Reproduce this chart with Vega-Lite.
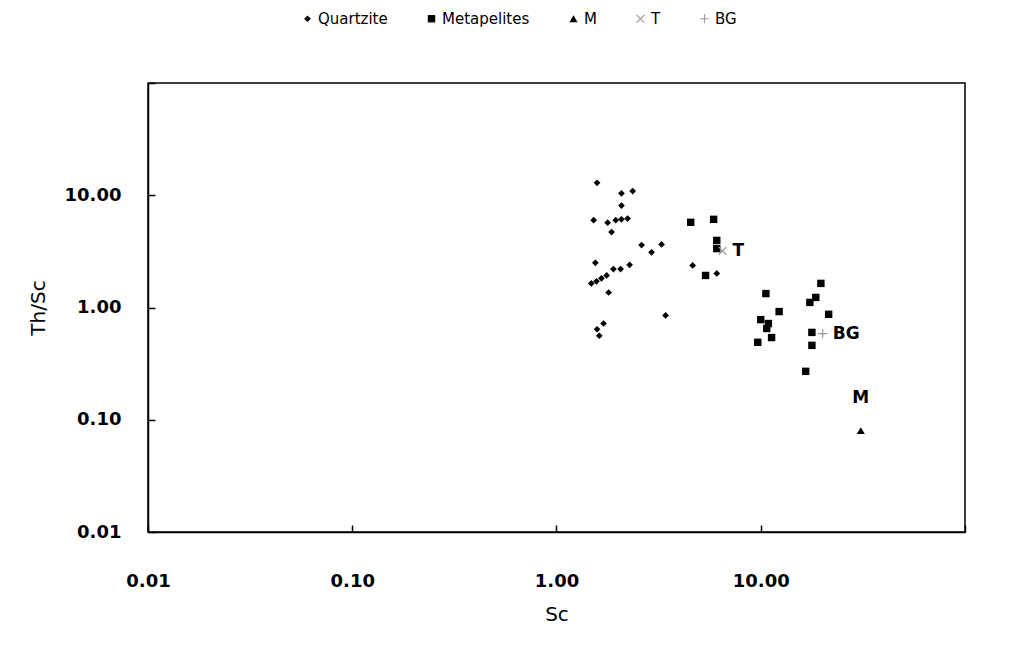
{
  "$schema": "https://vega.github.io/schema/vega-lite/v6.json",
  "width": 817,
  "height": 449,
  "autosize": {"type": "none"},
  "padding": {"left": 148, "top": 83, "right": 66, "bottom": 133},
  "background": "white",
  "config": {
    "view": {"stroke": "black", "strokeWidth": 1.5},
    "font": "DejaVu Sans",
    "axis": {
      "grid": false,
      "domainColor": "black",
      "domainWidth": 1.5,
      "tickColor": "black",
      "tickWidth": 1.5,
      "tickSize": -7,
      "labelColor": "black",
      "labelFont": "DejaVu Sans",
      "labelFontSize": 18,
      "labelFontWeight": "bold",
      "labelFlush": false,
      "labelOverlap": false,
      "titleColor": "black",
      "titleFont": "DejaVu Sans",
      "titleFontSize": 20,
      "titleFontWeight": "normal"
    },
    "legend": {
      "labelFont": "DejaVu Sans",
      "labelFontSize": 15,
      "labelColor": "black"
    }
  },
  "data": {
    "values": [
      {"series": "Quartzite", "x": 1.58, "y": 12.9},
      {"series": "Quartzite", "x": 2.08, "y": 10.4},
      {"series": "Quartzite", "x": 2.08, "y": 8.1},
      {"series": "Quartzite", "x": 2.36, "y": 10.9},
      {"series": "Quartzite", "x": 1.52, "y": 6.0},
      {"series": "Quartzite", "x": 1.78, "y": 5.7},
      {"series": "Quartzite", "x": 1.95, "y": 6.0},
      {"series": "Quartzite", "x": 2.08, "y": 6.1},
      {"series": "Quartzite", "x": 2.23, "y": 6.2},
      {"series": "Quartzite", "x": 1.86, "y": 4.7},
      {"series": "Quartzite", "x": 2.61, "y": 3.6},
      {"series": "Quartzite", "x": 2.92, "y": 3.1},
      {"series": "Quartzite", "x": 3.27, "y": 3.65},
      {"series": "Quartzite", "x": 1.55, "y": 2.5},
      {"series": "Quartzite", "x": 1.9, "y": 2.2},
      {"series": "Quartzite", "x": 2.06, "y": 2.2},
      {"series": "Quartzite", "x": 2.28, "y": 2.4},
      {"series": "Quartzite", "x": 1.48, "y": 1.64},
      {"series": "Quartzite", "x": 1.57, "y": 1.71},
      {"series": "Quartzite", "x": 1.66, "y": 1.82},
      {"series": "Quartzite", "x": 1.76, "y": 1.93},
      {"series": "Quartzite", "x": 1.8, "y": 1.36},
      {"series": "Quartzite", "x": 3.42, "y": 0.85},
      {"series": "Quartzite", "x": 1.7, "y": 0.72},
      {"series": "Quartzite", "x": 1.58, "y": 0.64},
      {"series": "Quartzite", "x": 1.62, "y": 0.56},
      {"series": "Quartzite", "x": 4.64, "y": 2.37},
      {"series": "Quartzite", "x": 6.09, "y": 2.01},
      {"series": "Metapelites", "x": 4.54, "y": 5.74},
      {"series": "Metapelites", "x": 5.88, "y": 6.1},
      {"series": "Metapelites", "x": 6.09, "y": 3.96},
      {"series": "Metapelites", "x": 6.09, "y": 3.35},
      {"series": "Metapelites", "x": 5.37, "y": 1.93},
      {"series": "Metapelites", "x": 10.6, "y": 1.33},
      {"series": "Metapelites", "x": 12.3, "y": 0.92},
      {"series": "Metapelites", "x": 10.0, "y": 0.78},
      {"series": "Metapelites", "x": 10.9, "y": 0.72},
      {"series": "Metapelites", "x": 10.7, "y": 0.65},
      {"series": "Metapelites", "x": 11.3, "y": 0.54},
      {"series": "Metapelites", "x": 9.67, "y": 0.49},
      {"series": "Metapelites", "x": 19.7, "y": 1.64},
      {"series": "Metapelites", "x": 18.6, "y": 1.23},
      {"series": "Metapelites", "x": 17.4, "y": 1.11},
      {"series": "Metapelites", "x": 21.5, "y": 0.87},
      {"series": "Metapelites", "x": 17.8, "y": 0.6},
      {"series": "Metapelites", "x": 17.8, "y": 0.46},
      {"series": "Metapelites", "x": 16.6, "y": 0.27},
      {"series": "M", "x": 30.9, "y": 0.08, "label": "M"},
      {"series": "T", "x": 6.5, "y": 3.2, "label": "T"},
      {"series": "BG", "x": 20.1, "y": 0.585, "label": "BG"}
    ]
  },
  "layer": [
    {
      "mark": {"type": "point", "filled": true, "opacity": 1},
      "encoding": {
        "x": {
          "field": "x", "type": "quantitative",
          "scale": {"type": "log", "domain": [0.01, 100], "nice": false},
          "axis": {
            "title": "Sc",
            "values": [0.01, 0.1, 1, 10, 100],
            "labelExpr": "datum.value >= 100 ? '' : format(datum.value, '.2f')",
            "labelPadding": 47,
            "titlePadding": 14
          }
        },
        "y": {
          "field": "y", "type": "quantitative",
          "scale": {"type": "log", "domain": [0.01, 100], "nice": false},
          "axis": {
            "title": "Th/Sc",
            "values": [0.01, 0.1, 1, 10, 100],
            "labelExpr": "datum.value >= 100 ? '' : format(datum.value, '.2f')",
            "labelPadding": 34,
            "titlePadding": 16
          }
        },
        "color": {
          "field": "series", "type": "nominal",
          "scale": {
            "domain": ["Quartzite", "Metapelites", "M", "T", "BG"],
            "range": ["#000000", "#000000", "#000000", "#9a9a9a", "#9a9a9a"]
          },
          "legend": {
            "title": null,
            "orient": "none",
            "direction": "horizontal",
            "legendX": 152,
            "legendY": -72,
            "columnPadding": 36,
            "labelOffset": 3,
            "symbolStrokeWidth": 0
          }
        },
        "shape": {
          "field": "series", "type": "nominal",
          "scale": {
            "domain": ["Quartzite", "Metapelites", "M", "T", "BG"],
            "range": [
              "diamond", "square", "triangle-up",
              "M-1,-0.8L-0.8,-1L0,-0.2L0.8,-1L1,-0.8L0.2,0L1,0.8L0.8,1L0,0.2L-0.8,1L-1,0.8L-0.2,0Z",
              "M-1,-0.12L-0.12,-0.12L-0.12,-1L0.12,-1L0.12,-0.12L1,-0.12L1,0.12L0.12,0.12L0.12,1L-0.12,1L-0.12,0.12L-1,0.12Z"
            ]
          }
        },
        "size": {
          "field": "series", "type": "nominal",
          "scale": {
            "domain": ["Quartzite", "Metapelites", "M", "T", "BG"],
            "range": [45, 85, 170, 90, 90]
          }
        }
      }
    },
    {
      "transform": [{"filter": "datum.series == 'T' || datum.series == 'BG'"}],
      "mark": {"type": "text", "align": "left", "baseline": "middle", "dx": 10, "fontSize": 17, "fontWeight": "bold", "font": "DejaVu Sans"},
      "encoding": {
        "x": {"field": "x", "type": "quantitative"},
        "y": {"field": "y", "type": "quantitative"},
        "text": {"field": "label"},
        "color": {"value": "black"}
      }
    },
    {
      "transform": [{"filter": "datum.series == 'M'"}],
      "mark": {"type": "text", "align": "center", "baseline": "middle", "dy": -33, "fontSize": 17, "fontWeight": "bold", "font": "DejaVu Sans"},
      "encoding": {
        "x": {"field": "x", "type": "quantitative"},
        "y": {"field": "y", "type": "quantitative"},
        "text": {"field": "label"},
        "color": {"value": "black"}
      }
    }
  ]
}
